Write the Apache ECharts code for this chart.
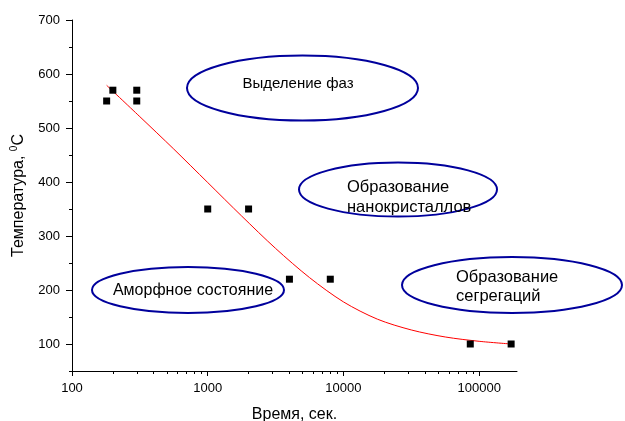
<!DOCTYPE html>
<html>
<head>
<meta charset="utf-8">
<script src="https://cdn.jsdelivr.net/npm/echarts@6/dist/echarts.min.js"></script>
<style>html,body{margin:0;padding:0;background:#fff}#c{width:625px;height:421px}</style>
</head>
<body>
<div id="c"></div>
<script>
// Measured points
const pointTime = [180, 200, 300, 300, 1000, 2000, 4000, 8000, 86000, 172000];
const pointTemp = [550, 570, 570, 550, 350, 350, 220, 220, 100, 100];
// Fitted curve
const fitTime = [180, 316, 562, 1000, 1778, 3162, 5623, 10000, 17783, 31623, 56234, 100000, 172000];
const fitTemp = [579, 521, 461, 399, 337, 277, 223, 178, 146, 126, 113, 105, 100];
// Tick values
const xMajorTicks = [100, 1000, 10000, 100000];
const xMinorTicks = [200,300,400,500,600,700,800,900,2000,3000,4000,5000,6000,7000,8000,9000,20000,30000,40000,50000,60000,70000,80000,90000];
const yMajorTicks = [100, 200, 300, 400, 500, 600, 700];
const yMinorTicks = [50, 150, 250, 350, 450, 550, 650];
// Annotation texts
const regionLabels = ['Выделение фаз', 'Образование\nнанокристаллов', 'Образование\nсегрегаций', 'Аморфное состояние'];

const FONT = '"Liberation Sans", Arial, sans-serif';
const chart = echarts.init(document.getElementById('c'), null, {renderer: 'canvas'});
const ink = '#000';
const blue = '#00009c';

const common = {min: 100, max: 190000, logBase: 10, splitLine: {show: false}};
const option = {
  animation: false,
  backgroundColor: '#fff',
  grid: {left: 72, right: 108, top: 20, bottom: 50, containLabel: false, outerBoundsMode: 'none'},
  xAxis: [
    Object.assign({
      type: 'log', position: 'bottom',
      name: 'Время, сек.', nameLocation: 'middle', nameGap: 36,
      nameTextStyle: {fontFamily: FONT, fontSize: 16, color: ink},
      axisLine: {show: true, lineStyle: {color: ink, width: 1}},
      axisTick: {show: true, inside: false, length: 5, customValues: xMajorTicks, lineStyle: {color: ink}},
      axisLabel: {show: true, customValues: xMajorTicks, fontFamily: FONT, fontSize: 13, color: ink, margin: 11,
        formatter: v => String(Math.round(v))},
      minorTick: {show: false}
    }, common),
    Object.assign({
      type: 'log', position: 'bottom',
      axisLine: {show: false},
      axisTick: {show: true, inside: false, length: 3, customValues: xMinorTicks, lineStyle: {color: ink}},
      axisLabel: {show: false}
    }, common)
  ],
  yAxis: [
    {
      type: 'value', min: 50, max: 700, position: 'left',
      name: 'Температура, {s|0}C', nameLocation: 'middle', nameGap: 44,
      nameTextStyle: {fontFamily: FONT, fontSize: 16, color: ink,
        rich: {s: {fontFamily: FONT, fontSize: 10, color: ink, padding: [0, 0, 9, 0]}}},
      splitLine: {show: false},
      axisLine: {show: true, lineStyle: {color: ink, width: 1}},
      axisTick: {show: true, inside: false, length: 6, customValues: yMajorTicks, lineStyle: {color: ink}},
      axisLabel: {show: true, customValues: yMajorTicks, fontFamily: FONT, fontSize: 13, color: ink, margin: 12}
    },
    {
      type: 'value', min: 50, max: 700, position: 'left',
      splitLine: {show: false},
      axisLine: {show: false},
      axisTick: {show: true, inside: false, length: 3, customValues: yMinorTicks, lineStyle: {color: ink}},
      axisLabel: {show: false}
    }
  ],
  series: [
    {
      type: 'line', xAxisIndex: 0, yAxisIndex: 0, smooth: 0.3, showSymbol: false, symbol: 'none',
      lineStyle: {color: '#ff0000', width: 1}, z: 2,
      data: fitTime.map((t, i) => [t, fitTemp[i]])
    },
    {
      type: 'scatter', xAxisIndex: 0, yAxisIndex: 0, symbol: 'rect', symbolSize: 7,
      itemStyle: {color: ink, opacity: 1}, z: 3,
      data: pointTime.map((t, i) => [t, pointTemp[i]])
    }
  ],
  graphic: [
    {type: 'ellipse', shape: {cx: 302.5, cy: 88, rx: 115.5, ry: 32.5}, style: {fill: 'none', stroke: blue, lineWidth: 2}},
    {type: 'ellipse', shape: {cx: 398, cy: 189.5, rx: 99, ry: 27}, style: {fill: 'none', stroke: blue, lineWidth: 2}},
    {type: 'ellipse', shape: {cx: 512, cy: 285, rx: 110, ry: 28}, style: {fill: 'none', stroke: blue, lineWidth: 2}},
    {type: 'ellipse', shape: {cx: 188, cy: 290, rx: 96, ry: 23}, style: {fill: 'none', stroke: blue, lineWidth: 2}},
    {type: 'text', x: 298, y: 84, style: {text: regionLabels[0], font: '15px ' + FONT, fill: ink, textAlign: 'center', textVerticalAlign: 'middle'}},
    {type: 'text', x: 347, y: 197, style: {text: regionLabels[1], font: '16.5px ' + FONT, fill: ink, textAlign: 'left', textVerticalAlign: 'middle', lineHeight: 20}},
    {type: 'text', x: 456, y: 287, style: {text: regionLabels[2], font: '16.5px ' + FONT, fill: ink, textAlign: 'left', textVerticalAlign: 'middle', lineHeight: 19}},
    {type: 'text', x: 193, y: 291, style: {text: regionLabels[3], font: '16px ' + FONT, fill: ink, textAlign: 'center', textVerticalAlign: 'middle'}}
  ]
};
chart.setOption(option);
</script>
</body>
</html>
